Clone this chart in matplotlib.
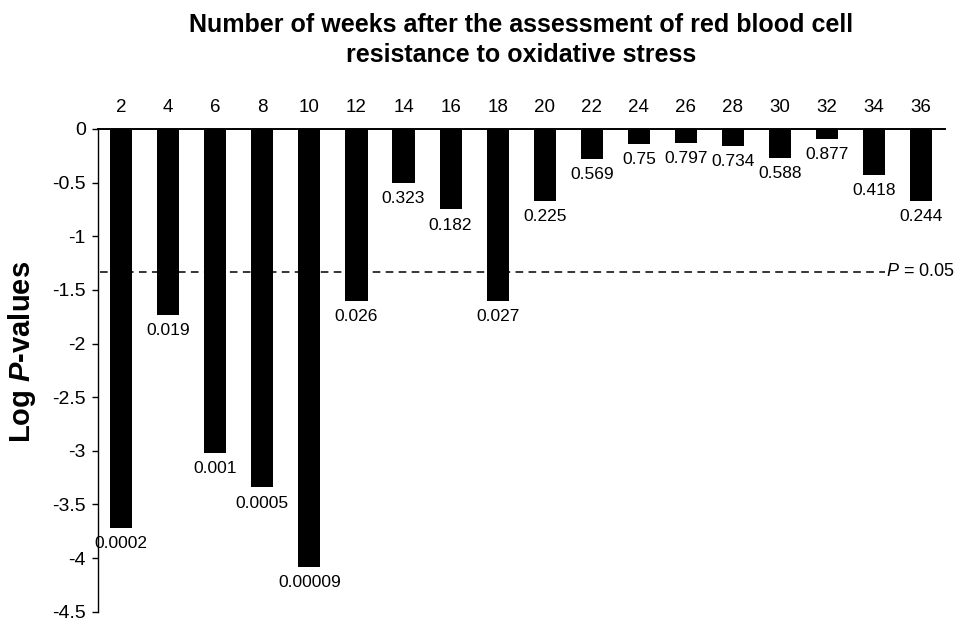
import matplotlib

matplotlib.use("Agg")
import matplotlib.pyplot as plt
import numpy as np

# weeks after the assessment, log10 P-values, printed P-values
weeks = ["2", "4", "6", "8", "10", "12", "14", "16", "18", "20",
         "22", "24", "26", "28", "30", "32", "34", "36"]
log_p = [-3.72, -1.73, -3.02, -3.34, -4.08, -1.60, -0.50, -0.75, -1.60, -0.67,
         -0.28, -0.14, -0.13, -0.16, -0.27, -0.09, -0.43, -0.67]
p_labels = ["0.0002", "0.019", "0.001", "0.0005", "0.00009", "0.026", "0.323",
            "0.182", "0.027", "0.225", "0.569", "0.75", "0.797", "0.734",
            "0.588", "0.877", "0.418", "0.244"]
threshold_log = -1.33
y_ticks = [0, -0.5, -1, -1.5, -2, -2.5, -3, -3.5, -4, -4.5]

plt.rcParams["font.family"] = ["Liberation Sans", "DejaVu Sans"]
plt.rcParams["mathtext.fontset"] = "custom"
plt.rcParams["mathtext.rm"] = "Liberation Sans"
plt.rcParams["mathtext.it"] = "Liberation Sans:italic"
plt.rcParams["mathtext.bf"] = "Liberation Sans:bold"
plt.rcParams["mathtext.bfit"] = "Liberation Sans:italic:bold"

fig = plt.figure(figsize=(9.64, 6.24), dpi=100)
ax = fig.add_axes([0.1013, 0.0197, 0.8787, 0.7736])

x = np.arange(len(weeks))
ax.bar(x, log_p, width=0.47, color="black")

for xi, v, lab in zip(x, log_p, p_labels):
    ax.annotate(lab, (xi, v), xytext=(0, -6), textcoords="offset points",
                ha="center", va="top", fontsize=12.5)

# P = 0.05 threshold
ax.plot([0.003, 0.929], [threshold_log, threshold_log], transform=ax.get_yaxis_transform(),
        color="black", lw=1.1, ls=(0, (5, 3.5)))
ax.text(0.931, threshold_log, r"$\it{P}$ = 0.05", transform=ax.get_yaxis_transform(),
        ha="left", va="center", fontsize=13)

ax.set_xlim(-0.5, len(weeks) - 0.5)
ax.set_ylim(-4.5, 0)
ax.set_yticks(y_ticks)
ax.set_yticklabels([f"{t:g}" for t in y_ticks])
ax.tick_params(axis="y", length=4.5, width=1, pad=4, labelsize=14)

ax.xaxis.tick_top()
ax.set_xticks(x)
ax.set_xticklabels(weeks)
ax.tick_params(axis="x", length=0, pad=9, labelsize=13.5)

for side in ["right", "bottom"]:
    ax.spines[side].set_visible(False)
ax.spines["top"].set_linewidth(1.4)
ax.spines["left"].set_linewidth(1.0)

ax.set_ylabel(r"Log $\mathbfit{P}$-values", fontsize=21, fontweight="bold")
ax.yaxis.set_label_coords(-0.071, 0.538)

fig.text(0.5405, 0.936, "Number of weeks after the assessment of red blood cell\n"
         "resistance to oxidative stress", ha="center", va="center",
         fontsize=18, fontweight="bold", linespacing=1.32,
         family=["Liberation Sans Narrow", "Liberation Sans"])

fig.savefig("out.png", dpi=100)
